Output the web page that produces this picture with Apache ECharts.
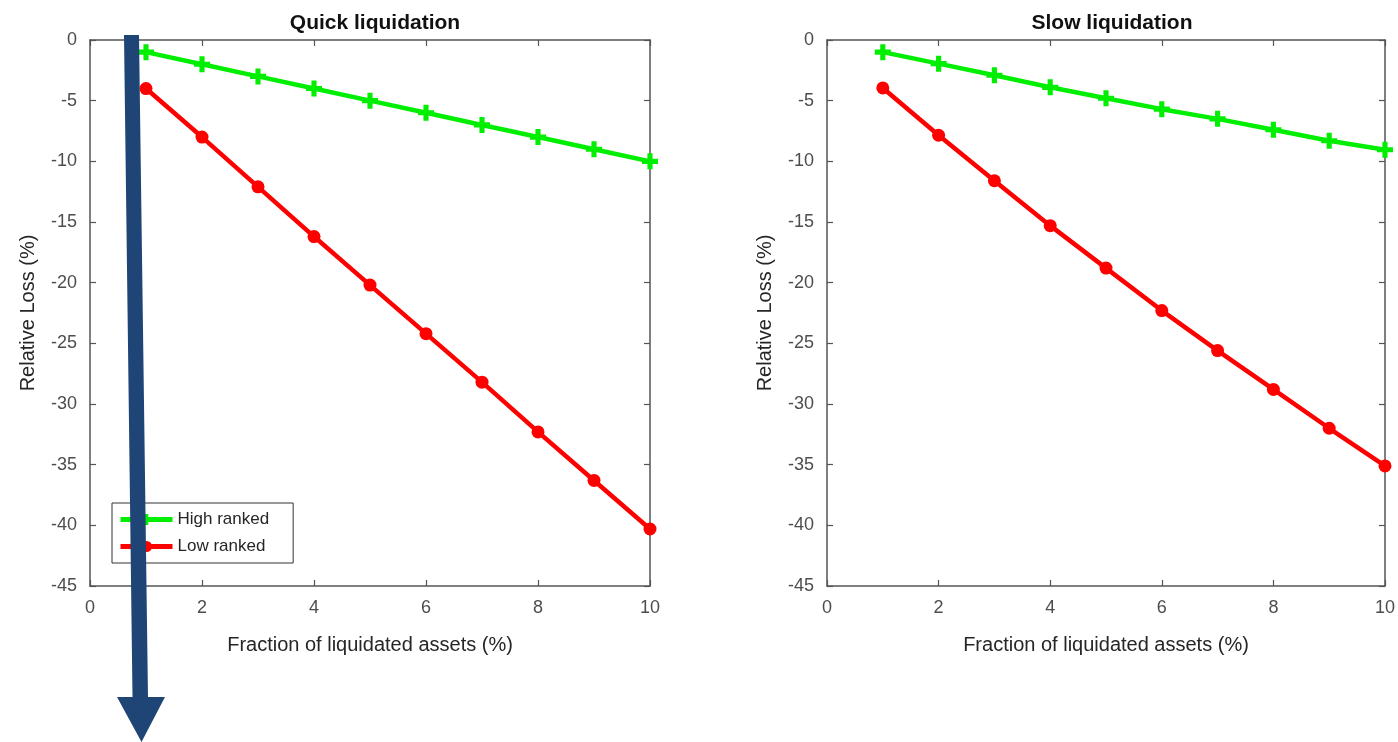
<!DOCTYPE html>
<html>
<head>
<meta charset="utf-8">
<script src="https://cdn.jsdelivr.net/npm/echarts@6/dist/echarts.min.js"></script>
<style>
html,body{margin:0;padding:0;background:#fff;}
#c{width:1398px;height:742px;}
</style>
</head>
<body>
<div id="c"></div>
<script>
// ---- data ----
const xValues = [1, 2, 3, 4, 5, 6, 7, 8, 9, 10];
const quickHigh = [-1, -2, -3, -4, -5, -6, -7, -8, -9, -10];
const quickLow = [-4, -8, -12.1, -16.2, -20.2, -24.2, -28.2, -32.3, -36.3, -40.3];
const slowHigh = [-1, -1.95, -2.9, -3.9, -4.8, -5.7, -6.5, -7.4, -8.3, -9.05];
const slowLow = [-3.95, -7.85, -11.6, -15.3, -18.8, -22.3, -25.6, -28.8, -32.0, -35.1];
const seriesNames = ['High ranked', 'Low ranked'];
const panelTitles = ['Quick liquidation', 'Slow liquidation'];
const xAxisTitle = 'Fraction of liquidated assets (%)';
const yAxisTitle = 'Relative Loss (%)';

const pairs = (ys) => xValues.map((x, i) => [x, ys[i]]);

const FONT = 'Liberation Sans, Arial, sans-serif';
const AXC = '#555555';
const GREEN = '#00ee00';
const RED = '#ff0000';
const PLUS = 'path://M3.4,0h3.2v3.4h3.4v3.2h-3.4v3.4h-3.2v-3.4h-3.4v-3.2h3.4z';

const grids = [
  {left: 90, width: 560, top: 40, height: 546},
  {left: 827, width: 560, top: 40, height: 546}
];

function xAx(gi, main) {
  return {
    type: 'value', gridIndex: gi, min: 0, max: 10, interval: 2,
    position: main ? 'bottom' : 'top',
    name: main ? xAxisTitle : '', nameLocation: 'middle', nameGap: 49,
    nameTextStyle: {fontFamily: FONT, fontSize: 20, color: '#262626'},
    axisLine: {show: true, onZero: false, lineStyle: {color: AXC, width: 1.5}},
    axisTick: {show: true, inside: true, length: 6, lineStyle: {color: AXC, width: 1.2}},
    axisLabel: {show: main, fontFamily: FONT, fontSize: 18, color: '#4d4d4d', margin: 13},
    splitLine: {show: false}
  };
}
function yAx(gi, main) {
  return {
    type: 'value', gridIndex: gi, min: -45, max: 0, interval: 5,
    position: main ? 'left' : 'right',
    name: main ? yAxisTitle : '', nameLocation: 'middle', nameGap: 52,
    nameTextStyle: {fontFamily: FONT, fontSize: 20, color: '#262626'},
    axisLine: {show: true, onZero: false, lineStyle: {color: AXC, width: 1.5}},
    axisTick: {show: true, inside: true, length: 6, lineStyle: {color: AXC, width: 1.2}},
    axisLabel: {show: main, fontFamily: FONT, fontSize: 18, color: '#4d4d4d', margin: 13},
    splitLine: {show: false}
  };
}

function lineSeries(name, data, xi, yi, isHigh) {
  return {
    name: name, type: 'line', xAxisIndex: xi, yAxisIndex: yi,
    data: pairs(data),
    symbol: isHigh ? PLUS : 'circle',
    symbolSize: isHigh ? 16 : 13,
    showAllSymbol: true,
    lineStyle: {color: isHigh ? GREEN : RED, width: 4.5},
    itemStyle: {color: isHigh ? GREEN : RED, borderWidth: 0},
    emphasis: {disabled: true},
    animation: false,
    z: isHigh ? 3 : 2
  };
}

const chart = echarts.init(document.getElementById('c'), null, {renderer: 'canvas'});
chart.setOption({
  backgroundColor: '#ffffff',
  animation: false,
  title: [
    {text: panelTitles[0], left: 370, top: 8, textAlign: 'center',
     textStyle: {fontFamily: FONT, fontSize: 21, fontWeight: 'bold', color: '#111'}},
    {text: panelTitles[1], left: 1107, top: 8, textAlign: 'center',
     textStyle: {fontFamily: FONT, fontSize: 21, fontWeight: 'bold', color: '#111'}}
  ],
  legend: {
    data: seriesNames,
    orient: 'vertical',
    left: 112, top: 503,
    itemWidth: 52, itemHeight: 14, itemGap: 10,
    padding: [8, 24, 8, 6],
    borderColor: '#333', borderWidth: 1,
    backgroundColor: '#fff',
    lineStyle: {width: 5},
    textStyle: {fontFamily: FONT, fontSize: 17, color: '#262626'},
    selectedMode: false
  },
  grid: grids,
  xAxis: [xAx(0, true), xAx(1, true), xAx(0, false), xAx(1, false)],
  yAxis: [yAx(0, true), yAx(1, true), yAx(0, false), yAx(1, false)],
  series: [
    lineSeries(seriesNames[0], quickHigh, 0, 0, true),
    lineSeries(seriesNames[1], quickLow, 0, 0, false),
    lineSeries(seriesNames[0], slowHigh, 1, 1, true),
    lineSeries(seriesNames[1], slowLow, 1, 1, false)
  ],
  graphic: [
    {
      type: 'polygon', z: 100,
      shape: {points: [[124, 35], [139, 35], [148, 697], [165, 697], [141.5, 742], [117, 697], [132.5, 697]]},
      style: {fill: '#1f4576'}
    }
  ]
});
</script>
</body>
</html>
